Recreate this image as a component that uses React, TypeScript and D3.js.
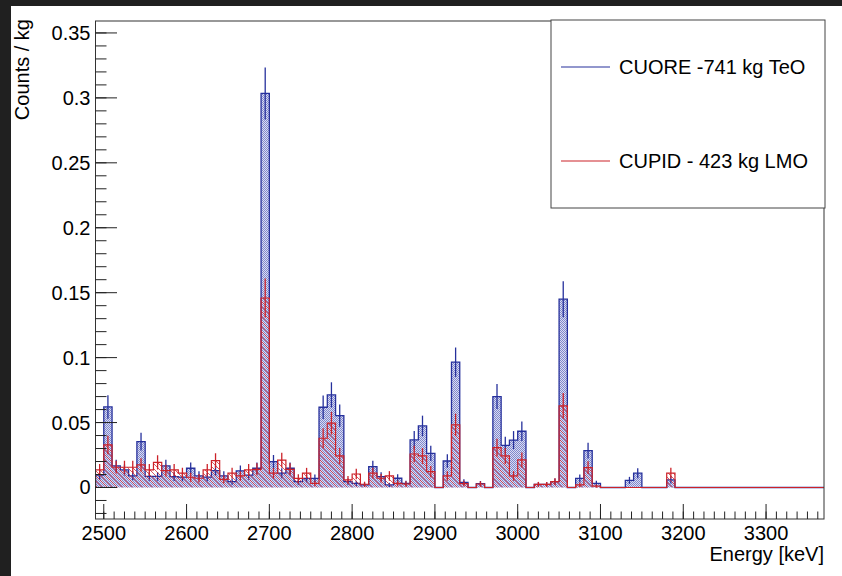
import React from "react";
import * as d3 from "d3";

// ---------- data (bin low edges every 10 keV, starting at 2490 keV) ----------
const BIN_START = 2490;
const BIN_WIDTH = 10;
const X_MIN = 2490;
const X_MAX = 3370;

// CUORE - 741 kg TeO  (counts / kg)
const cuore: number[] = [
  0.0095, 0.062, 0.0166, 0.0135, 0.009, 0.0353, 0.0085, 0.0085, 0.0166, 0.0084,
  0.008, 0.0148, 0.009, 0.008, 0.013, 0.009, 0.0045, 0.0128, 0.0096, 0.0148,
  0.3034, 0.0199, 0.011, 0.0148, 0.0045, 0.007, 0.007, 0.0618, 0.0713, 0.0553,
  0.0045, 0.0032, 0.002, 0.016, 0.0084, 0.002, 0.0071, 0.0032, 0.0366, 0.0474,
  0.0263, 0, 0.0204, 0.0965, 0.004, 0, 0.003, 0, 0.07, 0.0325,
  0.0365, 0.0433, 0, 0.0024, 0.0024, 0.0045, 0.145, 0, 0.007, 0.0284,
  0.0032, 0, 0, 0, 0.0055, 0.011, 0, 0, 0, 0.0058,
  0,
];

// CUPID - 423 kg LMO  (counts / kg)
const cupid: number[] = [
  0.0135, 0.0328, 0.0156, 0.0156, 0.0156, 0.0174, 0.0135, 0.0193, 0.013, 0.0135,
  0.011, 0.0079, 0.0071, 0.0135, 0.0207, 0.0063, 0.011, 0.0089, 0.0135, 0.014,
  0.1459, 0.011, 0.021, 0.014, 0.007, 0.011, 0.0032, 0.0379, 0.0495, 0.0243,
  0.0058, 0.0104, 0.0025, 0.011, 0.0071, 0.0089, 0.0032, 0.0027, 0.0258, 0.0243,
  0.0122, 0, 0.0089, 0.0482, 0.003, 0, 0.0027, 0, 0.0307, 0.0243,
  0.0089, 0.0212, 0, 0.0024, 0.0024, 0.0045, 0.0629, 0, 0.002, 0.0153,
  0.001, 0, 0, 0, 0, 0, 0, 0, 0, 0.011,
  0,
];

const CUORE_ERR_UNIT = 0.00132;
const CUPID_ERR_UNIT = 0.00154;

const yMajorTicks = [0, 0.05, 0.1, 0.15, 0.2, 0.25, 0.3, 0.35];
const yTickLabels = ["0", "0.05", "0.1", "0.15", "0.2", "0.25", "0.3", "0.35"];
const xMajorTicks = [2500, 2600, 2700, 2800, 2900, 3000, 3100, 3200, 3300];
const legendLabels = ["CUORE -741 kg TeO", "CUPID - 423 kg LMO"];

// ---------- layout ----------
const W = 842;
const H = 576;
const FL = 95.5;
const FR = 824;
const FT = 21;
const FB = 519;
const Y_MIN = -0.02426;
const Y_MAX = 0.3592;

const BLUE = "#26309c";
const RED = "#cc2229";
const FONT = "'Liberation Sans', Arial, Helvetica, sans-serif";
const FS = 20;

const x = d3.scaleLinear().domain([X_MIN, X_MAX]).range([FL, FR]);
const y = d3.scaleLinear().domain([Y_MIN, Y_MAX]).range([FB, FT]);

function stepPath(vals: number[], close: boolean): string {
  const p = d3.path();
  p.moveTo(x(BIN_START), y(0));
  vals.forEach((v, i) => {
    const e0 = BIN_START + i * BIN_WIDTH;
    p.lineTo(x(e0), y(v));
    p.lineTo(x(e0 + BIN_WIDTH), y(v));
  });
  const lastEdge = BIN_START + vals.length * BIN_WIDTH;
  p.lineTo(x(lastEdge), y(0));
  if (close) {
    p.closePath();
  } else {
    p.lineTo(x(X_MAX), y(0));
  }
  return p.toString();
}

function ErrorBars({ vals, unit, color }: { vals: number[]; unit: number; color: string }) {
  return (
    <g stroke={color} strokeWidth={1.3}>
      {vals.map((v, i) => {
        if (v <= 0) return null;
        const err = Math.sqrt(v * unit);
        const cx = x(BIN_START + (i + 0.5) * BIN_WIDTH);
        return <line key={i} x1={cx} x2={cx} y1={y(v - err)} y2={y(v + err)} />;
      })}
    </g>
  );
}

export default function App() {
  const yMinor = d3.range(-2, 36).map((k) => k / 100).filter((v) => v >= Y_MIN && v <= Y_MAX);
  const xMinor = d3.range(2500, X_MAX, 12.5);
  const majLenY = 21.5;
  const minLenY = 11;
  const majLenX = 15;
  const minLenX = 7.5;

  return (
    <svg
      width={W}
      height={H}
      style={{ position: "absolute", left: 0, top: 0 }}
      fontFamily={FONT}
    >
      <defs>
        <pattern id="bluePat" width="2" height="2" patternUnits="userSpaceOnUse">
          <rect width="2" height="2" fill="#dadcf2" />
          <rect x="0" y="0" width="1" height="1" fill="#8088cc" />
          <rect x="1" y="1" width="1" height="1" fill="#8088cc" />
        </pattern>
        <pattern id="redPat" width="5" height="5" patternUnits="userSpaceOnUse">
          <path d="M0,0 L5,5 M-1,4 L1,6 M4,-1 L6,1" stroke="#d2303a" strokeWidth="0.8" />
        </pattern>
        <clipPath id="frameClip">
          <rect x={FL} y={FT} width={FR - FL} height={FB - FT} />
        </clipPath>
      </defs>

      <rect x={0} y={0} width={W} height={H} fill="#ffffff" />
      <rect x={0} y={0} width={W} height={6} fill="#202020" />
      <rect x={0} y={0} width={11} height={H} fill="#202020" />

      {/* histograms */}
      <g clipPath="url(#frameClip)">
        <path d={stepPath(cuore, true)} fill="url(#bluePat)" stroke="none" />
        <path d={stepPath(cuore, false)} fill="none" stroke={BLUE} strokeWidth={1.3} />
        <ErrorBars vals={cuore} unit={CUORE_ERR_UNIT} color={BLUE} />
        <path d={stepPath(cupid, true)} fill="url(#redPat)" stroke="none" />
        <path d={stepPath(cupid, false)} fill="none" stroke={RED} strokeWidth={1.2} />
        <ErrorBars vals={cupid} unit={CUPID_ERR_UNIT} color={RED} />
      </g>

      {/* frame */}
      <rect x={FL} y={FT} width={FR - FL} height={FB - FT} fill="none" stroke="#333" strokeWidth={1} />

      {/* y axis ticks */}
      <g stroke="#222" strokeWidth={1}>
        {yMinor.map((v, i) => (
          <line key={"ym" + i} x1={FL} x2={FL + minLenY} y1={y(v)} y2={y(v)} />
        ))}
        {yMajorTicks.map((v, i) => (
          <line key={"yM" + i} x1={FL} x2={FL + majLenY} y1={y(v)} y2={y(v)} />
        ))}
      </g>
      <g fontSize={FS} fill="#000" textAnchor="end">
        {yMajorTicks.map((v, i) => (
          <text key={"yl" + i} x={FL - 5} y={y(v)} dy="0.35em">
            {yTickLabels[i]}
          </text>
        ))}
      </g>

      {/* x axis ticks */}
      <g stroke="#222" strokeWidth={1}>
        {xMinor.map((v, i) => (
          <line key={"xm" + i} x1={x(v)} x2={x(v)} y1={FB} y2={FB - minLenX} />
        ))}
        {xMajorTicks.map((v, i) => (
          <line key={"xM" + i} x1={x(v)} x2={x(v)} y1={FB} y2={FB - majLenX} />
        ))}
      </g>
      <g fontSize={FS} fill="#000" textAnchor="middle">
        {xMajorTicks.map((v, i) => (
          <text key={"xl" + i} x={x(v)} y={540}>
            {String(v)}
          </text>
        ))}
      </g>

      {/* axis titles */}
      <text x={FR} y={561} fontSize={FS} textAnchor="end" fill="#000">
        Energy [keV]
      </text>
      <text
        transform={`translate(29, ${FT - 2}) rotate(-90)`}
        fontSize={FS}
        textAnchor="end"
        fill="#000"
      >
        Counts / kg
      </text>

      {/* legend */}
      <rect x={551} y={20} width={274} height={188} fill="#fff" stroke="#444" strokeWidth={1} />
      <line x1={561} x2={610} y1={67} y2={67} stroke={BLUE} strokeWidth={1.2} />
      <text x={619} y={67} dy="0.35em" fontSize={FS} fill="#000">
        {legendLabels[0]}
      </text>
      <line x1={561} x2={610} y1={161} y2={161} stroke={RED} strokeWidth={1.2} />
      <text x={619} y={161} dy="0.35em" fontSize={FS} fill="#000">
        {legendLabels[1]}
      </text>
    </svg>
  );
}
